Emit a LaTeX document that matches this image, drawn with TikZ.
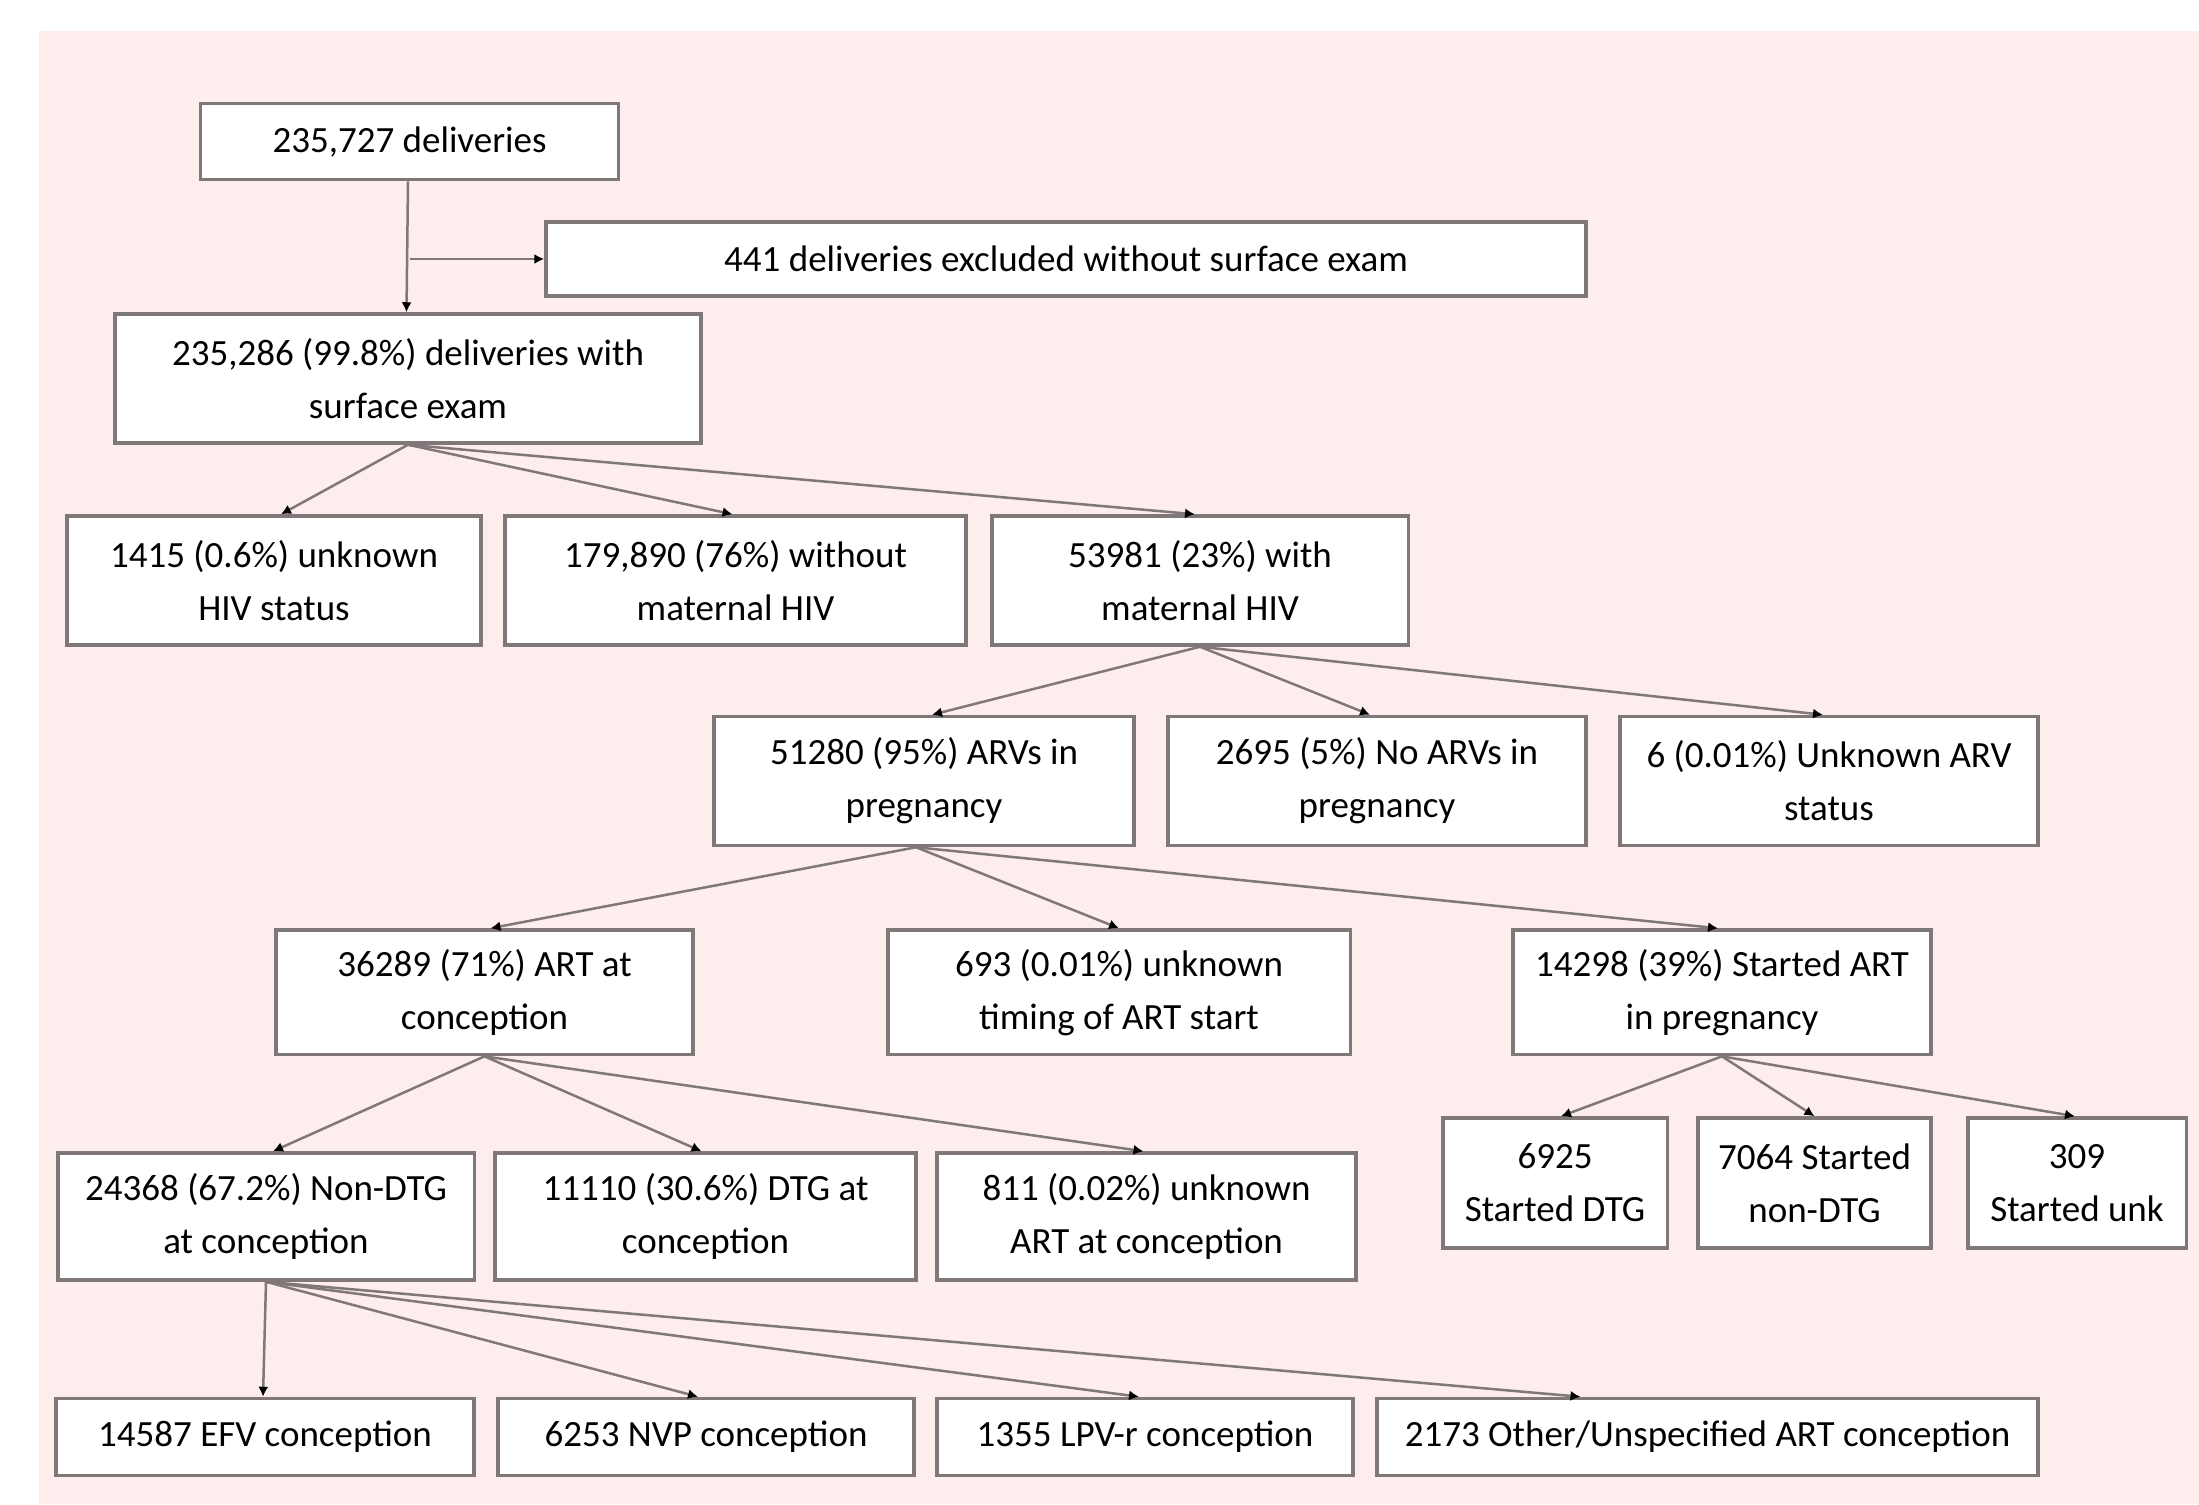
\documentclass[tikz,border=0pt]{standalone}
\usepackage{fontspec}
\setmainfont{Carlito}
\usetikzlibrary{arrows.meta}
\definecolor{bgpink}{RGB}{253,237,237}
\definecolor{edgegray}{RGB}{128,120,120}
\begin{document}
\begin{tikzpicture}[x=1pt,y=-1pt,
  box/.style={draw=edgegray, line width=3.5pt, fill=white, inner sep=0pt, align=center,
    font=\fontsize{37}{53}\selectfont, text=black},
  arr/.style={draw=edgegray, line width=2.5pt, -{Latex[length=10pt,width=10pt,color=black]}},
  ln/.style={draw=edgegray, line width=2.5pt}]
\useasboundingbox (0,0) rectangle (2199,1504);
\fill[white] (0,0) rectangle (2199,1504);
\fill[bgpink] (39,31) rectangle (2199,1504);

\node[box, minimum width=418, minimum height=76] (A) at (409.5,141.7) {235,727 deliveries};
\node[box, minimum width=1040, minimum height=74] (X) at (1066,259) {441 deliveries excluded without surface exam};
\node[box, minimum width=586, minimum height=129] (B) at (408,378.5) {235,286 (99.8\%) deliveries with\\surface exam};

\node[box, minimum width=414, minimum height=129] (C1) at (274,580.5) {1415 (0.6\%) unknown\\HIV status};
\node[box, minimum width=461, minimum height=129] (C2) at (735.5,580.5) {179,890 (76\%) without\\maternal HIV};
\node[box, minimum width=416.5, minimum height=129] (C3) at (1200,580.5) {53981 (23\%) with\\maternal HIV};

\node[box, minimum width=420, minimum height=129] (D1) at (924,781) {51280 (95\%) ARVs in\\pregnancy};
\node[box, minimum width=418, minimum height=129] (D2) at (1377,781) {2695 (5\%) No ARVs in\\pregnancy};
\node[box, minimum width=418, minimum height=129] (D3) at (1829,781) {6 (0.01\%) Unknown ARV\\status};

\node[box, minimum width=417, minimum height=124.6] (E1) at (484.5,992.3) {36289 (71\%) ART at\\conception};
\node[box, minimum width=462.5, minimum height=124.6] (E2) at (1119,992.3) {693 (0.01\%) unknown\\timing of ART start};
\node[box, minimum width=418, minimum height=124.6] (E3) at (1722,992.3) {14298 (39\%) Started ART\\in pregnancy};

\node[box, minimum width=416.5, minimum height=127] (F1) at (266,1216.5) {24368 (67.2\%) Non-DTG\\at conception};
\node[box, minimum width=421, minimum height=127] (F2) at (705.5,1216.5) {11110 (30.6\%) DTG at\\conception};
\node[box, minimum width=419, minimum height=127] (F3) at (1146.5,1216.5) {811 (0.02\%) unknown\\ART at conception};

\node[box, minimum width=224.5, minimum height=130] (G1) at (1555,1183) {6925\\Started DTG};
\node[box, minimum width=233, minimum height=130] (G2) at (1814.5,1183) {7064 Started\\non-DTG};
\node[box, minimum width=218.5, minimum height=130] (G3) at (2077,1183) {309\\Started unk};

\node[box, minimum width=418, minimum height=77] (H1) at (265,1437) {14587 EFV conception};
\node[box, minimum width=416, minimum height=77] (H2) at (706,1437) {6253 NVP conception};
\node[box, minimum width=416, minimum height=77] (H3) at (1145,1437) {1355 LPV-r conception};
\node[box, minimum width=661, minimum height=77] (H4) at (1707.5,1437) {2173 Other/Unspecified ART conception};

% connectors
\coordinate (j) at (A.south |- X.west);
\draw[arr] ([xshift=-1.5pt]A.south) -- ([xshift=-1.5pt]B.north);
\draw[arr] (j) -- (X.west);

\draw[arr] (B.south) -- ([xshift=7pt]C1.north);
\draw[arr] (B.south) -- ([xshift=-3pt]C2.north);
\draw[arr] (B.south) -- ([xshift=-5pt]C3.north);

\draw[arr] (C3.south) -- ([xshift=8pt]D1.north);
\draw[arr] (C3.south) -- ([xshift=-7pt]D2.north);
\draw[arr] (C3.south) -- ([xshift=-6pt]D3.north);

\draw[arr] ([xshift=-8pt]D1.south) -- ([xshift=6pt]E1.north);
\draw[arr] ([xshift=-8pt]D1.south) -- (E2.north);
\draw[arr] ([xshift=-8pt]D1.south) -- ([xshift=-4pt]E3.north);

\draw[arr] (E1.south) -- ([xshift=7pt]F1.north);
\draw[arr] (E1.south) -- ([xshift=-4pt]F2.north);
\draw[arr] (E1.south) -- ([xshift=-3pt]F3.north);

\draw[arr] (E3.south) -- ([xshift=6pt]G1.north);
\draw[arr] (E3.south) -- (G2.north);
\draw[arr] (E3.south) -- ([xshift=-2pt]G3.north);

\draw[arr] (F1.south) -- ([xshift=-2pt]H1.north);
\draw[arr] (F1.south) -- ([xshift=-8pt]H2.north);
\draw[arr] (F1.south) -- ([xshift=-6pt]H3.north);
\draw[arr] (F1.south) -- ([xshift=-127pt]H4.north);
\end{tikzpicture}
\end{document}
